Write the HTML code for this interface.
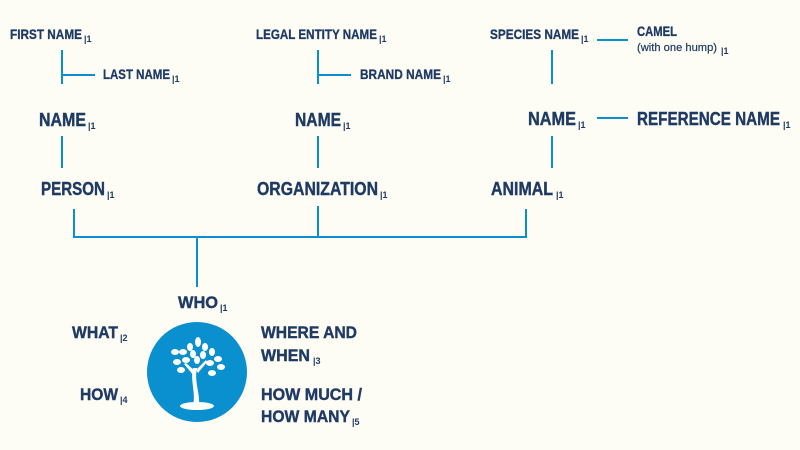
<!DOCTYPE html>
<html><head><meta charset="utf-8">
<style>
html,body{margin:0;padding:0;background:#fdfcf5;}
svg{display:block;}
text{font-family:"Liberation Sans",sans-serif;font-weight:bold;fill:#1f3a63;}
.s{font-size:14px;stroke:#1f3a63;stroke-width:0.3;}
.b{font-size:18px;stroke:#1f3a63;stroke-width:0.4;}
.m{font-size:17px;stroke:#1f3a63;stroke-width:0.4;}
.sub{font-size:9px;}
line{stroke:#0a8fcf;stroke-width:2;}
</style></head><body>
<svg width="800" height="450" viewBox="0 0 800 450" xmlns="http://www.w3.org/2000/svg">
<rect width="800" height="450" fill="#fdfcf5"/>
<text class="s" x="10" y="39" textLength="72" lengthAdjust="spacingAndGlyphs">FIRST NAME</text><text class="sub" x="84" y="42">|1</text>
<line x1="62" y1="50" x2="62" y2="84"/><line x1="62" y1="75" x2="95" y2="75"/>
<text class="s" x="103" y="79" textLength="67" lengthAdjust="spacingAndGlyphs">LAST NAME</text><text class="sub" x="172" y="82">|1</text>
<text class="b" x="39" y="126" textLength="47" lengthAdjust="spacingAndGlyphs">NAME</text><text class="sub" x="88" y="129">|1</text>
<line x1="62" y1="136" x2="62" y2="168"/>
<text class="b" x="41" y="195" textLength="64" lengthAdjust="spacingAndGlyphs">PERSON</text><text class="sub" x="107" y="198">|1</text>
<text class="s" x="256" y="39" textLength="121" lengthAdjust="spacingAndGlyphs">LEGAL ENTITY NAME</text><text class="sub" x="379" y="42">|1</text>
<line x1="318" y1="50" x2="318" y2="84"/><line x1="318" y1="75" x2="351" y2="75"/>
<text class="s" x="360" y="79" textLength="81" lengthAdjust="spacingAndGlyphs">BRAND NAME</text><text class="sub" x="443" y="82">|1</text>
<text class="b" x="295" y="126" textLength="46" lengthAdjust="spacingAndGlyphs">NAME</text><text class="sub" x="343" y="129">|1</text>
<line x1="318" y1="136" x2="318" y2="168"/>
<text class="b" x="257" y="195" textLength="121" lengthAdjust="spacingAndGlyphs">ORGANIZATION</text><text class="sub" x="380" y="198">|1</text>
<text class="s" x="490" y="39" textLength="89" lengthAdjust="spacingAndGlyphs">SPECIES NAME</text><text class="sub" x="581" y="42">|1</text>
<line x1="597" y1="40" x2="628" y2="40"/>
<text class="s" x="637" y="36" textLength="40" lengthAdjust="spacingAndGlyphs">CAMEL</text>
<text x="637" y="51" style="font-size:11px;font-weight:normal;stroke:#1f3a63;stroke-width:0.2" textLength="80" lengthAdjust="spacingAndGlyphs">(with one hump)</text><text class="sub" x="721" y="54">|1</text>
<line x1="552" y1="50" x2="552" y2="84"/>
<text class="b" x="528" y="125" textLength="48" lengthAdjust="spacingAndGlyphs">NAME</text><text class="sub" x="578" y="128">|1</text>
<line x1="597" y1="118" x2="628" y2="118"/>
<text class="b" x="637" y="125" textLength="143" lengthAdjust="spacingAndGlyphs">REFERENCE NAME</text><text class="sub" x="783" y="128">|1</text>
<line x1="552" y1="136" x2="552" y2="168"/>
<text class="b" x="491" y="195" textLength="62" lengthAdjust="spacingAndGlyphs">ANIMAL</text><text class="sub" x="556" y="198">|1</text>
<line x1="74" y1="209" x2="74" y2="238"/><line x1="318" y1="206" x2="318" y2="238"/><line x1="526" y1="209" x2="526" y2="238"/>
<line x1="73" y1="237" x2="527" y2="237"/>
<line x1="197" y1="237" x2="197" y2="287"/>
<text class="m" x="178" y="308" textLength="40" lengthAdjust="spacingAndGlyphs">WHO</text><text class="sub" x="220" y="311">|1</text>
<text class="m" x="72" y="338" textLength="46" lengthAdjust="spacingAndGlyphs">WHAT</text><text class="sub" x="120" y="341">|2</text>
<text class="m" x="261" y="338" textLength="96" lengthAdjust="spacingAndGlyphs">WHERE AND</text>
<text class="m" x="261" y="361" textLength="49" lengthAdjust="spacingAndGlyphs">WHEN</text><text class="sub" x="313" y="364">|3</text>
<text class="m" x="80" y="400" textLength="38" lengthAdjust="spacingAndGlyphs">HOW</text><text class="sub" x="120" y="403">|4</text>
<text class="m" x="261" y="400" textLength="101" lengthAdjust="spacingAndGlyphs">HOW MUCH /</text>
<text class="m" x="261" y="422" textLength="89" lengthAdjust="spacingAndGlyphs">HOW MANY</text><text class="sub" x="352" y="425">|5</text>
<circle cx="197" cy="372" r="50" fill="#0a8fcf"/>
<g fill="#fff">
<ellipse cx="197" cy="406" rx="17" ry="4"/>
<path d="M193 405 C196 392 190 382 193 368 L197 368 C194 382 200 392 199 405 Z"/>
<path d="M194 376 L184 364 L186 363 L196 372 Z"/>
<path d="M196 370 L206 360 L207 362 L198 373 Z"/>
<ellipse cx="198" cy="342" rx="3" ry="5"/>
<ellipse cx="190" cy="347" rx="3" ry="4"/>
<ellipse cx="205" cy="347" rx="3" ry="4"/>
<ellipse cx="183" cy="352" rx="4" ry="3"/>
<ellipse cx="212" cy="352" rx="3" ry="4"/>
<ellipse cx="193" cy="354" rx="3" ry="4"/>
<ellipse cx="203" cy="355" rx="3" ry="4"/>
<ellipse cx="175" cy="352" rx="4" ry="3"/>
<ellipse cx="218" cy="359" rx="4" ry="3"/>
<ellipse cx="186" cy="360" rx="4" ry="3"/>
<ellipse cx="210" cy="363" rx="4" ry="3"/>
<ellipse cx="177" cy="362" rx="4" ry="3"/>
<ellipse cx="221" cy="367" rx="4" ry="3"/>
<ellipse cx="181" cy="370" rx="4" ry="3"/>
<ellipse cx="212" cy="373" rx="4" ry="3"/>
<ellipse cx="197" cy="360" rx="3" ry="4"/>
</g>
</svg>
</body></html>
